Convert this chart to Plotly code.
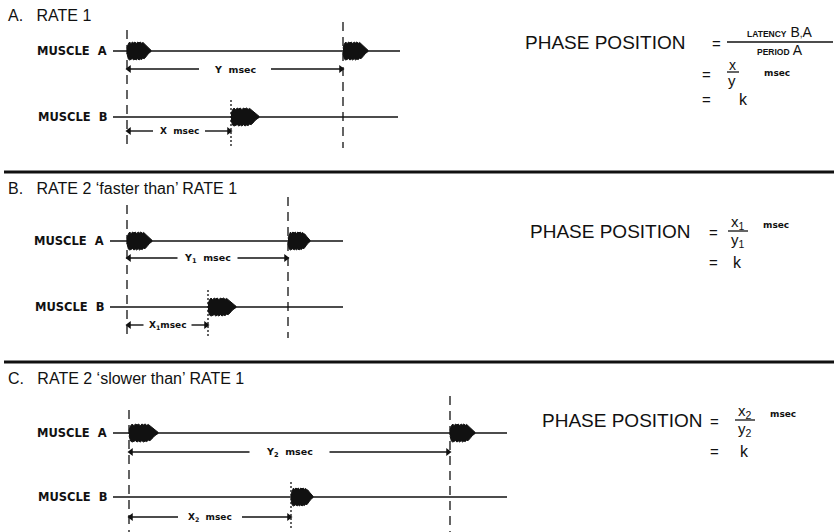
import plotly.graph_objects as go

# ---------------- data ----------------
panel_letters = ["A.", "B.", "C."]
panel_titles = ["RATE 1", "RATE 2 \u2018faster than\u2019 RATE 1", "RATE 2 \u2018slower than\u2019 RATE 1"]
muscle_names = ["MUSCLE  A", "MUSCLE  B"]
period_Y = [216, 161, 321]          # A-to-A period (msec units)
latency_X = [104, 81, 162]          # onset of B after onset of A
burst_A1_dur = [24, 25, 29]
burst_A2_dur = [25, 22, 25]
burst_B_dur = [28, 28, 22]
record_start = [-14, -17, -16]
record_end_A = [273, 216, 378]
record_end_B = [271, 216, 378]
y_labels = ["Y&nbsp;&nbsp;msec", "Y<sub>1</sub>&nbsp;&nbsp;msec", "Y<sub>2</sub>&nbsp;&nbsp;msec"]
x_labels = ["X&nbsp;&nbsp;msec", "X<sub>1</sub>msec", "X<sub>2</sub>&nbsp;&nbsp;msec"]
num_labels = ["x", "x<sub>1</sub>", "x<sub>2</sub>"]
den_labels = ["y", "y<sub>1</sub>", "y<sub>2</sub>"]
burst_env_top = [0.3, 0.8, 1.0, 0.8, 1.0, 0.9, 1.0, 0.8, 1.0, 0.9, 1.0, 0.85, 0.95, 0.8, 0.75, 0.55, 0.4, 0.2, 0.08]
burst_env_bot = [0.3, 0.9, 1.0, 0.9, 0.85, 1.0, 0.9, 1.0, 0.85, 1.0, 0.9, 0.95, 0.8, 0.85, 0.65, 0.5, 0.3, 0.15, 0.06]

# ---------------- layout constants ----------------
W, H = 834, 532
FONT = "Liberation Sans"
BFONT = "DejaVu Sans"
INK = "#111111"
x0 = [127, 127, 129]
yA = [51, 241, 433]
yB = [117, 307, 497]
title_y = [15, 188, 378]
sep_y = [172, 362]
dash_top_left = [30, 205, 410]
dash_top_right = [22, 197, 396]
dash_bottom = [148, 338, 532]
dot_top = [100, 290, 482]
y_arrow = [69, 258, 452]
x_arrow = [131, 325, 517]
y_half_gap = [36, 30, 40]
x_half_gap = [26, 24, 32]
amp = 9

fig = go.Figure()
ann = []
shapes = []


def line(xa, ya, xb, yb, width=1.5, dash=None):
    fig.add_trace(go.Scatter(x=[xa, xb], y=[ya, yb], mode="lines",
                             line=dict(color=INK, width=width, dash=dash),
                             hoverinfo="skip", showlegend=False))


def burst(px, onset, dur, base):
    n = len(burst_env_top)
    xs = [px + onset + dur * i / (n - 1) for i in range(n)]
    top = [base - amp * v for v in burst_env_top]
    bot = [base + amp * v for v in burst_env_bot]
    fig.add_trace(go.Scatter(
        x=xs + xs[::-1], y=top + bot[::-1], fill="toself", fillcolor=INK,
        mode="lines", line=dict(color=INK, width=1), hoverinfo="skip", showlegend=False))


def arrow(xh, y, xt):
    line(xt, y, xh, y, width=1.4)
    sym = "triangle-left" if xh < xt else "triangle-right"
    fig.add_trace(go.Scatter(x=[xh], y=[y], mode="markers",
                             marker=dict(symbol=sym, size=7, color=INK, line=dict(width=0)),
                             hoverinfo="skip", showlegend=False))


def text(x, y, s, size, xanchor="left", bold=False, family=FONT):
    ann.append(dict(x=x, y=y, xref="x", yref="y", text=("<b>%s</b>" % s) if bold else s,
                    showarrow=False, xanchor=xanchor, yanchor="middle",
                    font=dict(family=family, size=size, color=INK)))


for p in range(3):
    px = x0[p]
    # title
    text(6, title_y[p], panel_letters[p] + "&nbsp;&nbsp;&nbsp;" + panel_titles[p], 16)
    # baselines
    line(px + record_start[p], yA[p], px + record_end_A[p], yA[p])
    line(px + record_start[p], yB[p], px + record_end_B[p], yB[p])
    text(px + record_start[p] - 4, yA[p], muscle_names[0], 11.5, xanchor="right", bold=True, family=BFONT)
    text(px + record_start[p] - 4, yB[p], muscle_names[1], 11.5, xanchor="right", bold=True, family=BFONT)
    # bursts
    burst(px, 0, burst_A1_dur[p], yA[p])
    burst(px, period_Y[p], burst_A2_dur[p], yA[p])
    burst(px, latency_X[p], burst_B_dur[p], yB[p])
    # dashed / dotted reference lines
    line(px, dash_top_left[p], px, dash_bottom[p], width=1.3, dash="9px,6px")
    line(px + period_Y[p], dash_top_right[p], px + period_Y[p], dash_bottom[p], width=1.3, dash="9px,6px")
    line(px + latency_X[p], dot_top[p], px + latency_X[p], dash_bottom[p] - 2, width=1.3, dash="2px,2px")
    # Y arrow
    cy = px + period_Y[p] / 2
    arrow(px + 2, y_arrow[p], cy - y_half_gap[p])
    arrow(px + period_Y[p] - 2, y_arrow[p], cy + y_half_gap[p])
    text(cy, y_arrow[p], y_labels[p], 9.5, xanchor="center", bold=True, family=BFONT)
    # X arrow
    cx = px + latency_X[p] / 2
    arrow(px + 2, x_arrow[p], cx - x_half_gap[p])
    arrow(px + latency_X[p] - 2, x_arrow[p], cx + x_half_gap[p])
    text(cx, x_arrow[p], x_labels[p], 9, xanchor="center", bold=True, family=BFONT)

# separators
for s in sep_y:
    shapes.append(dict(type="line", xref="x", yref="y", x0=4, x1=834, y0=s, y1=s, line=dict(color=INK, width=3)))

# ---------------- phase position formulas ----------------
phase_x = [523, 528, 540]
phase_y = [42, 231, 420]
eq_x = [716, 713, 714]
frac_x = [732, 738, 745]
k_y = [99, 262, 451]

# Panel A (general form)
text(phase_x[0], phase_y[0], "PHASE POSITION", 19)
text(eq_x[0], phase_y[0] + 1, "=", 15, xanchor="center")
text(780, phase_y[0] - 10,
     "<span style='font-size:8.5px'><b>LATENCY</b></span> B<span style='font-size:10px'>,</span>A",
     14, xanchor="center")
shapes.append(dict(type="line", xref="x", yref="y", x0=727, x1=833, y0=phase_y[0], y1=phase_y[0],
                   line=dict(color=INK, width=1.3)))
text(780, phase_y[0] + 8, "<span style='font-size:8.5px'><b>PERIOD</b></span> A", 14, xanchor="center")
text(706, 74, "=", 15, xanchor="center")
text(frac_x[0], 65, num_labels[0], 14, xanchor="center")
shapes.append(dict(type="line", xref="x", yref="y", x0=727, x1=739, y0=72, y1=72, line=dict(color=INK, width=1.3)))
text(frac_x[0], 80, den_labels[0], 15, xanchor="center")
text(762, 73, "msec", 9, bold=True, family=BFONT)
text(706, k_y[0], "=", 15, xanchor="center")
text(743, k_y[0], "k", 16, xanchor="center")

# Panels B and C
for p in (1, 2):
    py = phase_y[p]
    text(phase_x[p], py, "PHASE POSITION", 19)
    text(eq_x[p], py + 1, "=", 15, xanchor="center")
    text(frac_x[p], py - 9, num_labels[p], 15, xanchor="center")
    shapes.append(dict(type="line", xref="x", yref="y", x0=frac_x[p] - 10, x1=frac_x[p] + 10, y0=py, y1=py,
                       line=dict(color=INK, width=1.3)))
    text(frac_x[p], py + 9, den_labels[p], 15, xanchor="center")
    text(frac_x[p] + 23, py - 6, "msec", 9, bold=True, family=BFONT)
    text(eq_x[p], k_y[p], "=", 15, xanchor="center")
    text(frac_x[p] - 1, k_y[p], "k", 16, xanchor="center")

fig.update_layout(
    width=W, height=H, margin=dict(l=0, r=0, t=0, b=0),
    paper_bgcolor="white", plot_bgcolor="white",
    xaxis=dict(range=[0, W], visible=False, fixedrange=True),
    yaxis=dict(range=[H, 0], visible=False, fixedrange=True),
    annotations=ann, shapes=shapes, showlegend=False,
)
fig.write_html("out.html", config={"displayModeBar": False},
               post_script="document.body.style.margin='0';")
